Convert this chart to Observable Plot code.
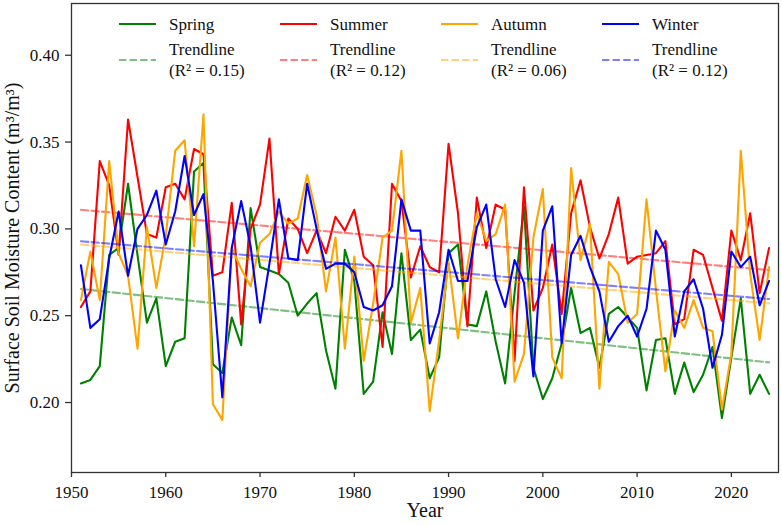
<!DOCTYPE html>
<html>
<head>
<meta charset="utf-8">
<script src="https://cdn.jsdelivr.net/npm/d3@7"></script>
<script src="https://cdn.jsdelivr.net/npm/@observablehq/plot@0.6"></script>
<style>
  html, body { margin: 0; padding: 0; background: #fff; }
  #chart { width: 782px; height: 525px; }
  #chart svg text { font-family: 'Liberation Serif', 'Times New Roman', serif; }
</style>
</head>
<body>
<div id="chart"></div>
<script>
// ---- Data ----
const years = d3.range(1951, 2025);

const spring = [
  0.211, 0.213, 0.221, 0.285, 0.289, 0.326, 0.285, 0.246, 0.260, 0.221,
  0.235, 0.237, 0.333, 0.338, 0.222, 0.217, 0.249, 0.233, 0.312, 0.278,
  0.276, 0.274, 0.269, 0.250, 0.257, 0.263, 0.230, 0.208, 0.288, 0.270,
  0.205, 0.212, 0.252, 0.228, 0.286, 0.236, 0.242, 0.214, 0.226, 0.286,
  0.291, 0.245, 0.244, 0.264, 0.235, 0.211, 0.263, 0.313, 0.220, 0.202,
  0.214, 0.234, 0.266, 0.240, 0.243, 0.220, 0.251, 0.255, 0.249, 0.243,
  0.207, 0.236, 0.237, 0.205, 0.223, 0.206, 0.216, 0.232, 0.191, 0.226,
  0.260, 0.205, 0.216, 0.205
];
const summer = [
  0.255, 0.264, 0.339, 0.325, 0.285, 0.363, 0.330, 0.297, 0.295, 0.324,
  0.326, 0.317, 0.346, 0.343, 0.273, 0.275, 0.315, 0.245, 0.300, 0.314,
  0.352, 0.274, 0.306, 0.300, 0.286, 0.299, 0.286, 0.307, 0.299, 0.311,
  0.284, 0.279, 0.232, 0.326, 0.316, 0.272, 0.290, 0.278, 0.275, 0.349,
  0.309, 0.244, 0.318, 0.289, 0.314, 0.311, 0.224, 0.324, 0.253, 0.266,
  0.291, 0.251, 0.309, 0.328, 0.301, 0.283, 0.297, 0.318, 0.280, 0.284,
  0.285, 0.286, 0.293, 0.245, 0.248, 0.288, 0.285, 0.266, 0.247, 0.299,
  0.282, 0.309, 0.263, 0.289
];
const autumn = [
  0.259, 0.287, 0.259, 0.339, 0.286, 0.273, 0.231, 0.301, 0.266, 0.296,
  0.345, 0.351, 0.290, 0.366, 0.199, 0.190, 0.289, 0.277, 0.267, 0.292,
  0.297, 0.310, 0.303, 0.306, 0.331, 0.308, 0.264, 0.295, 0.231, 0.284,
  0.224, 0.257, 0.295, 0.299, 0.345, 0.246, 0.266, 0.195, 0.236, 0.281,
  0.237, 0.279, 0.309, 0.293, 0.297, 0.314, 0.212, 0.228, 0.295, 0.323,
  0.226, 0.214, 0.335, 0.282, 0.303, 0.208, 0.281, 0.274, 0.246, 0.251,
  0.317, 0.265, 0.218, 0.253, 0.243, 0.259, 0.243, 0.241, 0.196, 0.228,
  0.345, 0.274, 0.236, 0.278
];
const winter = [
  0.279, 0.243, 0.248, 0.283, 0.310, 0.273, 0.300, 0.308, 0.322, 0.291,
  0.310, 0.342, 0.308, 0.320, 0.270, 0.203, 0.289, 0.316, 0.290, 0.246,
  0.280, 0.317, 0.283, 0.282, 0.326, 0.300, 0.277, 0.280, 0.280, 0.275,
  0.255, 0.253, 0.256, 0.267, 0.317, 0.299, 0.299, 0.234, 0.252, 0.288,
  0.270, 0.270, 0.301, 0.314, 0.271, 0.255, 0.282, 0.269, 0.215, 0.299,
  0.313, 0.234, 0.285, 0.296, 0.278, 0.264, 0.235, 0.244, 0.250, 0.238,
  0.254, 0.299, 0.288, 0.238, 0.264, 0.271, 0.254, 0.220, 0.239, 0.287,
  0.278, 0.284, 0.256, 0.270
];

// Trendline end values (1951 and 2024)
const trendYears = [1951, 2024];
const springTrend = [0.2654, 0.2231];
const summerTrend = [0.3110, 0.2763];
const autumnTrend = [0.2910, 0.2571];
const winterTrend = [0.2929, 0.2596];

const seasonNames = ["Spring", "Summer", "Autumn", "Winter"];
const seasonColors = ["green", "red", "orange", "blue"];
const r2Labels = ["0.15", "0.12", "0.06", "0.12"];

const xTicks = [1950, 1960, 1970, 1980, 1990, 2000, 2010, 2020];
const yTicks = [0.20, 0.25, 0.30, 0.35, 0.40];

const xLabel = "Year";
const yLabel = "Surface Soil Moisture Content (m\u00B3/m\u00B3)";

// ---- Build tables ----
const seriesValues = [spring, summer, autumn, winter];
const trendValues = [springTrend, summerTrend, autumnTrend, winterTrend];

const marks = [];
seriesValues.forEach((vals, i) => {
  const rows = years.map((yr, k) => ({year: yr, value: vals[k]}));
  const trows = trendYears.map((yr, k) => ({year: yr, value: trendValues[i][k]}));
  marks.push(Plot.line(rows, {x: "year", y: "value", stroke: seasonColors[i], strokeWidth: 2.1}));
  marks.push(Plot.line(trows, {x: "year", y: "value", stroke: seasonColors[i], strokeWidth: 2.1,
    strokeOpacity: 0.5, strokeDasharray: "7.4,3.2"}));
});

const FONT = "'Liberation Serif', 'Times New Roman', serif";

const plot = Plot.plot({
  width: 782,
  height: 525,
  marginLeft: 71,
  marginRight: 4,
  marginTop: 3,
  marginBottom: 53,
  style: {fontFamily: FONT, fontSize: "17px", color: "#111", background: "#fff", overflow: "visible"},
  x: {domain: [1950, 2025]},
  y: {domain: [0.1597, 0.4298]},
  marks: [
    ...marks,
    Plot.frame({stroke: "#333", strokeWidth: 1.3}),
    Plot.axisX({ticks: xTicks, tickFormat: d => String(d), tickSize: 5, tickPadding: 8,
      label: null, stroke: "#333", strokeWidth: 1.3, fontSize: 17}),
    Plot.axisY({ticks: yTicks, tickFormat: d3.format(".2f"), tickSize: 6, tickPadding: 6,
      label: null, stroke: "#333", strokeWidth: 1.3, fontSize: 17}),
    Plot.text([xLabel], {frameAnchor: "bottom", dy: 44, fontSize: 20, fill: "#111", textAnchor: "middle"}),
    Plot.text([yLabel], {frameAnchor: "left", dx: -59, rotate: -90, fontSize: 20, fill: "#111", textAnchor: "middle"})
  ]
});

document.getElementById("chart").appendChild(plot);

// ---- Legend (inside the frame, top) ----
const svg = d3.select(plot);
const leg = svg.append("g").attr("font-family", FONT).attr("font-size", 17)
  .attr("fill", "#111").attr("text-anchor", "start");
const colX = [119, 280, 441, 602];
seasonNames.forEach((name, i) => {
  const x0 = colX[i];
  leg.append("line").attr("x1", x0).attr("x2", x0 + 37).attr("y1", 24).attr("y2", 24)
    .attr("stroke", seasonColors[i]).attr("stroke-width", 2.1);
  leg.append("text").attr("x", x0 + 50).attr("y", 30).text(name);
  leg.append("line").attr("x1", x0).attr("x2", x0 + 37).attr("y1", 60).attr("y2", 60)
    .attr("stroke", seasonColors[i]).attr("stroke-width", 2.1).attr("stroke-opacity", 0.5)
    .attr("stroke-dasharray", "7.4,3.2");
  leg.append("text").attr("x", x0 + 50).attr("y", 55).text("Trendline");
  leg.append("text").attr("x", x0 + 50).attr("y", 76).text("(R\u00B2 = " + r2Labels[i] + ")");
});
</script>
</body>
</html>
